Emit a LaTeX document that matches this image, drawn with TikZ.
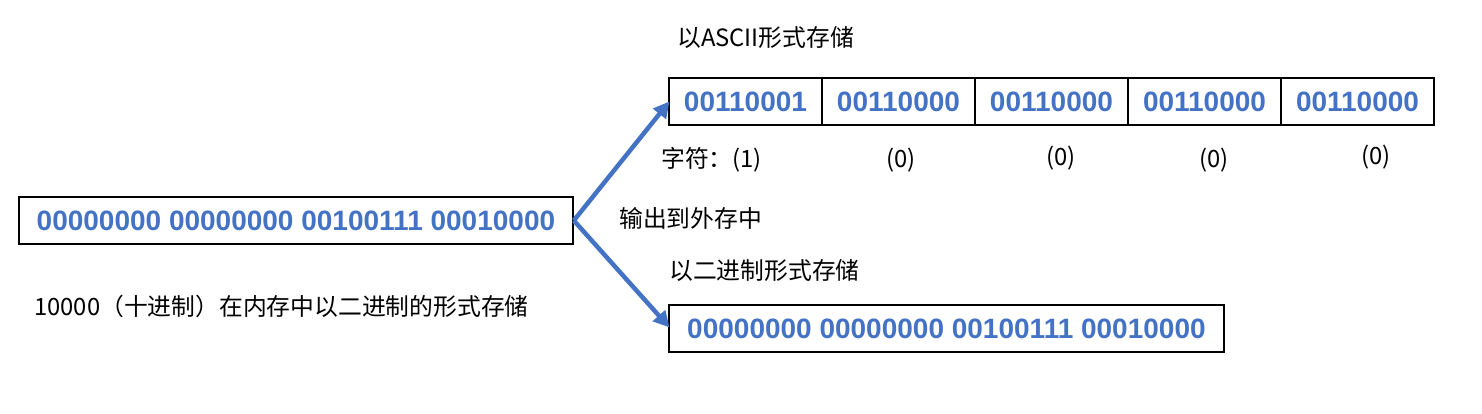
\documentclass[tikz,border=0pt]{standalone}
\usepackage{fontspec}
\setmainfont{Liberation Sans}
\newfontfamily\cjk{Noto Sans CJK SC}
\usetikzlibrary{arrows.meta}
\definecolor{bitblue}{HTML}{4472C4}
\tikzset{
  bitbox/.style={draw=black, line width=1.6pt, minimum height=47pt, inner sep=0pt,
    font=\fontsize{28}{30}\selectfont\bfseries, text=bitblue},
  cell/.style={bitbox, minimum width=153pt},
  lbl/.style={font=\cjk\fontsize{23.8}{26}\selectfont, text=black, inner sep=0pt, anchor=west},
  flow/.style={draw=bitblue, line width=4.5pt, -{Triangle[length=16pt,width=16pt]}, shorten >=-2pt}
}
\begin{document}
\begin{tikzpicture}[x=1pt,y=-1pt]
\useasboundingbox (0,0) rectangle (1482,413);
\node[bitbox, minimum width=554pt] (L) at (296,220.5) {00000000 00000000 00100111 00010000};
\node[bitbox, minimum width=555pt] (B) at (946.5,328.5) {00000000 00000000 00100111 00010000};
\node[cell] (c1) at (745.5,101.5) {00110001};
\node[cell] (c2) at (898.5,101.5) {00110000};
\node[cell] (c3) at (1051.5,101.5) {00110000};
\node[cell] (c4) at (1204.5,101.5) {00110000};
\node[cell] (c5) at (1357.5,101.5) {00110000};
\node[lbl] (t1) at (677,38) {以ASCII形式存储};
\node[lbl] (t2) at (661,160) {字符：(1)};
\node[lbl, anchor=center] (p2) at (901,160) {(0)};
\node[lbl, anchor=center] (p3) at (1061,158) {(0)};
\node[lbl, anchor=center] (p4) at (1214,160) {(0)};
\node[lbl, anchor=center] (p5) at (1376,157) {(0)};
\node[lbl] (t3) at (619,218) {输出到外存中};
\node[lbl] (t4) at (669,270) {以二进制形式存储};
\node[lbl] (t5) at (34,306) {10000（十进制）在内存中以二进制的形式存储};
\draw[flow] (L.east) -- (c1.south west |- 0,103);
\draw[flow] (L.east) -- (B.west |- 0,326);
\end{tikzpicture}
\end{document}
